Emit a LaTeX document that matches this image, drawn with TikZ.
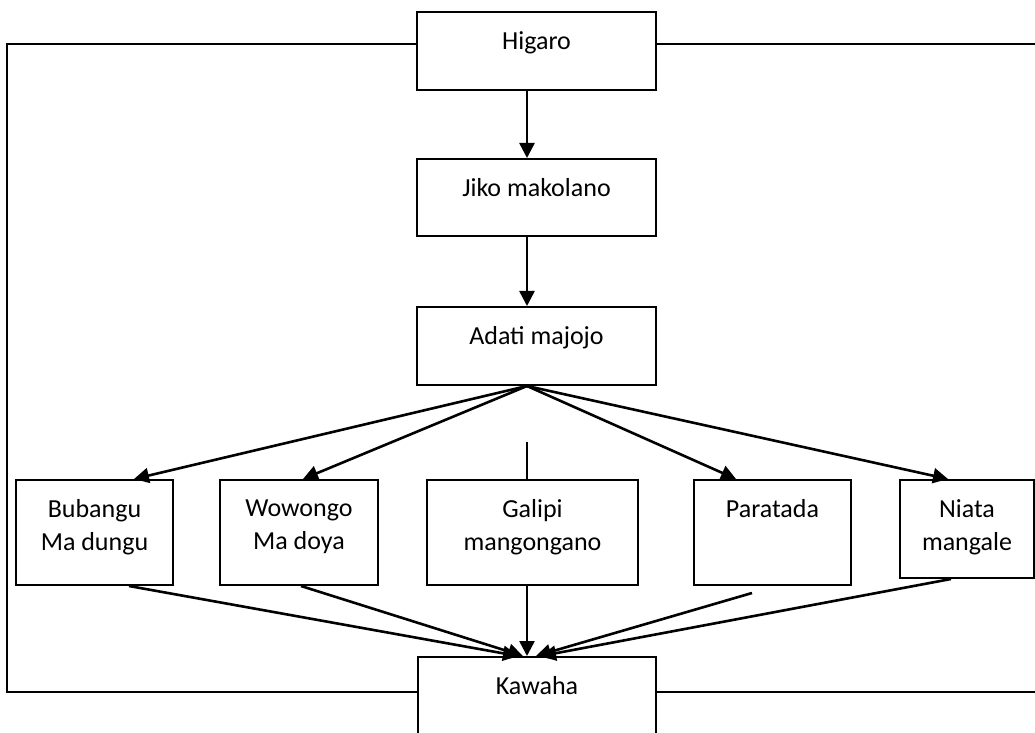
\documentclass[tikz,border=0pt]{standalone}
\usepackage{fontspec}
\setmainfont{Carlito}
\usetikzlibrary{arrows.meta}
\newlength\pxu
\setlength\pxu{0.5pt}
\tikzset{
  box/.style={draw, line width=1pt, fill=white, anchor=north west, inner sep=0pt},
  lbl/.style={anchor=north, inner sep=0pt, align=center,
    font=\fontsize{13}{16.5}\selectfont},
  link/.style={line width=1.3pt},
  arr/.style={link, -{Triangle[length=7.5pt, width=7.5pt]}},
}
\begin{document}
\begin{tikzpicture}[x=0.5pt, y=-0.5pt]
\useasboundingbox (0,0) rectangle (1035,733);
\clip (0,0) rectangle (1035,733);

% boxes
\node[box, minimum width=239\pxu, minimum height=78\pxu] (hig) at (416,11) {};
\node[box, minimum width=239\pxu, minimum height=77\pxu] (jiko) at (416,158) {};
\node[box, minimum width=239\pxu, minimum height=78\pxu] (adati) at (416,306) {};
\node[box, minimum width=157\pxu, minimum height=105\pxu] (bub) at (15,479) {};
\node[box, minimum width=158\pxu, minimum height=105\pxu] (wow) at (219,479) {};
\node[box, minimum width=211\pxu, minimum height=105\pxu] (gal) at (426,479) {};
\node[box, minimum width=157\pxu, minimum height=105\pxu] (par) at (693,479) {};
\node[box, minimum width=134\pxu, minimum height=98\pxu] (nia) at (899,479) {};
\node[box, minimum width=238\pxu, minimum height=110\pxu] (kaw) at (417,656) {};

% captions
\node[lbl] (t-hig) at ([yshift=-10pt]hig.north) {Higaro};
\node[lbl] (t-jiko) at ([yshift=-10pt]jiko.north) {Jiko makolano};
\node[lbl] (t-adati) at ([yshift=-10pt]adati.north) {Adati majojo};
\node[lbl] (t-bub) at ([yshift=-10pt]bub.north) {Bubangu\\Ma dungu};
\node[lbl] (t-wow) at ([yshift=-10pt]wow.north) {Wowongo\\Ma doya};
\node[lbl] (t-gal) at ([yshift=-10pt]gal.north) {Galipi\\mangongano};
\node[lbl] (t-par) at ([yshift=-10pt]par.north) {Paratada};
\node[lbl] (t-nia) at ([yshift=-10pt]nia.north) {Niata\\mangale};
\node[lbl] (t-kaw) at ([yshift=-10pt]kaw.north) {Kawaha};

% the vertical axis that the main chain runs along
\coordinate (ax) at (527,0);

% main chain
\draw[arr] (ax |- hig.south) -- (ax |- jiko.north);
\draw[arr] (ax |- jiko.south) -- (ax |- adati.north);

% branches out of Adati majojo
\coordinate (fork) at (ax |- adati.south);
\draw[arr] (fork) -- ([xshift=19.75pt]bub.north);
\draw[arr] (fork) -- ([xshift=2pt]wow.north);
\draw[arr] (fork) -- ([xshift=-18.25pt]par.north);
\draw[arr] (fork) -- ([xshift=-9.5pt]nia.north);
\coordinate (gtop) at (527,442);
\draw[link] (gtop) -- (gtop |- gal.north);

% branches into Kawaha
\coordinate (pbot) at (752,593);
\draw[arr] ([xshift=17.25pt]bub.south) -- ([xshift=-9.5pt]kaw.north);
\draw[arr] ([xshift=1pt]wow.south) -- ([xshift=-7pt]kaw.north);
\draw[arr] (ax |- gal.south) -- (ax |- kaw.north);
\draw[arr] (pbot) -- ([xshift=-0.5pt]kaw.north);
\draw[arr] ([xshift=-8pt]nia.south) -- ([xshift=2pt]kaw.north);

% feedback loop round the left side, and the lines leading off to the right
\coordinate (hl) at (7,44);
\coordinate (kl) at (7,692);
\coordinate (hr) at (1035,44);
\coordinate (kr) at (1035,692);
\draw[link] (hl -| hig.west) -- (hl) -- (kl) -- (kl -| kaw.west);
\draw[link] (hr -| hig.east) -- (hr);
\draw[link] (kr -| kaw.east) -- (kr);
\end{tikzpicture}
\end{document}
